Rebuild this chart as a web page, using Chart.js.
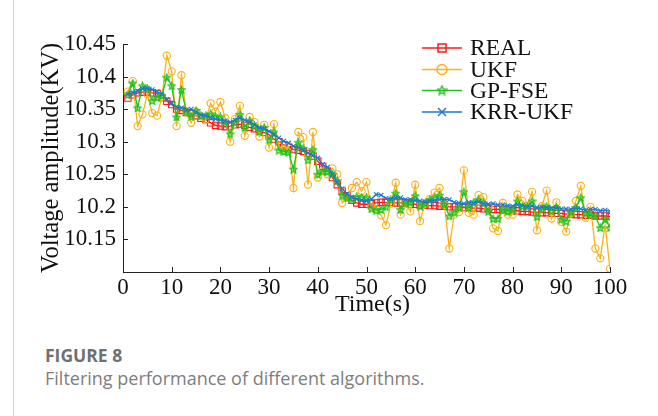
<!DOCTYPE html>
<html>
<head>
<meta charset="utf-8">
<script src="https://cdn.jsdelivr.net/npm/chart.js"></script>
<style>
  html, body { margin: 0; padding: 0; background: #fff; }
  body { width: 658px; height: 416px; position: relative; overflow: hidden; }
  .side-rule { position: absolute; left: 13px; top: 0; width: 1px; height: 416px; background: #d4d4d4; }
  .chart-box { position: absolute; left: 0; top: 0; width: 658px; height: 330px; }
  .fig-label { position: absolute; left: 45px; top: 347px; line-height: 1; font-family: "Open Sans", sans-serif;
    font-weight: 700; font-size: 17.5px; color: #707070; }
  .fig-caption { position: absolute; left: 45px; top: 369px; line-height: 1; font-family: "Open Sans", sans-serif;
    font-size: 18px; color: #7e7e7e; }
</style>
</head>
<body>
<div class="side-rule"></div>
<div class="chart-box"><canvas id="filter-chart" width="658" height="330"></canvas></div>
<div class="fig-label">FIGURE 8</div>
<div class="fig-caption">Filtering performance of different algorithms.</div>
<script>
// 时间轴 (s)
const timeSteps = [
  1, 2, 3, 4, 5, 6, 7, 8, 9, 10, 11, 12, 13, 14, 15, 16, 17, 18, 19, 20,
  21, 22, 23, 24, 25, 26, 27, 28, 29, 30, 31, 32, 33, 34, 35, 36, 37, 38, 39, 40,
  41, 42, 43, 44, 45, 46, 47, 48, 49, 50, 51, 52, 53, 54, 55, 56, 57, 58, 59, 60,
  61, 62, 63, 64, 65, 66, 67, 68, 69, 70, 71, 72, 73, 74, 75, 76, 77, 78, 79, 80,
  81, 82, 83, 84, 85, 86, 87, 88, 89, 90, 91, 92, 93, 94, 95, 96, 97, 98, 99, 100
];

// 真实电压
const realValues = [
  10.367, 10.372, 10.375, 10.376, 10.376, 10.375, 10.374, 10.368, 10.362, 10.357,
  10.350, 10.348, 10.345, 10.343, 10.340, 10.336, 10.334, 10.329, 10.325, 10.324,
  10.323, 10.324, 10.326, 10.327, 10.325, 10.322, 10.320, 10.316, 10.314, 10.311,
  10.304, 10.300, 10.295, 10.292, 10.288, 10.287, 10.285, 10.282, 10.278, 10.270,
  10.262, 10.255, 10.245, 10.234, 10.224, 10.217, 10.210, 10.206, 10.204, 10.204,
  10.205, 10.206, 10.207, 10.207, 10.207, 10.206, 10.206, 10.205, 10.204, 10.204,
  10.203, 10.203, 10.202, 10.202, 10.201, 10.201, 10.200, 10.200, 10.200, 10.199,
  10.199, 10.198, 10.198, 10.197, 10.197, 10.196, 10.196, 10.195, 10.195, 10.194,
  10.194, 10.193, 10.193, 10.192, 10.192, 10.191, 10.191, 10.190, 10.190, 10.190,
  10.189, 10.189, 10.188, 10.188, 10.187, 10.187, 10.186, 10.186, 10.186, 10.185
];

// UKF 估计
const ukfValues = [
  10.377, 10.393, 10.324, 10.342, 10.373, 10.344, 10.340, 10.369, 10.432, 10.408,
  10.324, 10.402, 10.345, 10.329, 10.346, 10.339, 10.334, 10.359, 10.346, 10.361,
  10.336, 10.300, 10.335, 10.355, 10.309, 10.338, 10.330, 10.308, 10.326, 10.291,
  10.327, 10.293, 10.288, 10.293, 10.229, 10.315, 10.307, 10.234, 10.315, 10.245,
  10.255, 10.250, 10.259, 10.250, 10.206, 10.214, 10.229, 10.238, 10.224, 10.238,
  10.200, 10.196, 10.187, 10.172, 10.205, 10.237, 10.188, 10.205, 10.193, 10.234,
  10.178, 10.205, 10.212, 10.222, 10.229, 10.204, 10.136, 10.188, 10.192, 10.256,
  10.191, 10.188, 10.218, 10.215, 10.199, 10.167, 10.163, 10.206, 10.188, 10.188,
  10.219, 10.209, 10.202, 10.223, 10.164, 10.201, 10.225, 10.182, 10.207, 10.177,
  10.162, 10.190, 10.209, 10.232, 10.183, 10.200, 10.136, 10.121, 10.172, 10.105
];

// GP-FSE 估计
const gpfseValues = [
  10.372, 10.390, 10.352, 10.386, 10.382, 10.363, 10.368, 10.371, 10.399, 10.386,
  10.338, 10.380, 10.346, 10.339, 10.348, 10.340, 10.340, 10.343, 10.339, 10.338,
  10.330, 10.312, 10.330, 10.342, 10.322, 10.332, 10.325, 10.316, 10.322, 10.303,
  10.315, 10.287, 10.285, 10.284, 10.258, 10.299, 10.290, 10.272, 10.288, 10.250,
  10.255, 10.254, 10.250, 10.240, 10.218, 10.214, 10.212, 10.216, 10.215, 10.215,
  10.197, 10.195, 10.196, 10.200, 10.211, 10.221, 10.196, 10.206, 10.207, 10.217,
  10.201, 10.205, 10.211, 10.214, 10.218, 10.204, 10.186, 10.192, 10.199, 10.223,
  10.199, 10.207, 10.211, 10.206, 10.193, 10.182, 10.182, 10.196, 10.193, 10.196,
  10.209, 10.201, 10.201, 10.209, 10.185, 10.197, 10.201, 10.194, 10.199, 10.181,
  10.178, 10.192, 10.199, 10.214, 10.191, 10.188, 10.186, 10.168, 10.181, 10.168
];

// KRR-UKF 估计
const krrUkfValues = [
  10.373, 10.375, 10.378, 10.381, 10.382, 10.380, 10.377, 10.373, 10.365, 10.359,
  10.353, 10.352, 10.349, 10.350, 10.345, 10.341, 10.340, 10.337, 10.335, 10.333,
  10.332, 10.330, 10.333, 10.336, 10.333, 10.330, 10.326, 10.322, 10.320, 10.316,
  10.311, 10.306, 10.301, 10.298, 10.293, 10.291, 10.287, 10.283, 10.279, 10.275,
  10.265, 10.261, 10.250, 10.238, 10.228, 10.220, 10.215, 10.212, 10.210, 10.209,
  10.212, 10.219, 10.218, 10.213, 10.212, 10.214, 10.214, 10.211, 10.211, 10.210,
  10.209, 10.208, 10.209, 10.210, 10.211, 10.212, 10.211, 10.207, 10.206, 10.205,
  10.207, 10.206, 10.208, 10.205, 10.204, 10.205, 10.203, 10.203, 10.202, 10.201,
  10.203, 10.202, 10.200, 10.201, 10.199, 10.200, 10.199, 10.198, 10.199, 10.197,
  10.197, 10.196, 10.198, 10.197, 10.195, 10.196, 10.196, 10.194, 10.195, 10.193
];

// 坐标轴刻度
const xTicks = [0, 10, 20, 30, 40, 50, 60, 70, 80, 90, 100];
const yTicks = [10.1, 10.15, 10.2, 10.25, 10.3, 10.35, 10.4, 10.45];

const seriesNames = ['REAL', 'UKF', 'GP-FSE', 'KRR-UKF'];
const seriesColors = ['#ff1a1a', '#fbb117', '#1fc21f', '#1f78d1'];

const SERIF = '"Liberation Serif", "DejaVu Serif", serif';

// 五角星标记
function makeStar(color, size) {
  const c = document.createElement('canvas');
  c.width = size;
  c.height = size;
  const g = c.getContext('2d');
  const cx = size / 2, cy = size / 2 + 0.5;
  const ro = size / 2 - 0.8, ri = ro * 0.45;
  g.beginPath();
  for (let i = 0; i < 10; i++) {
    const r = i % 2 === 0 ? ro : ri;
    const a = -Math.PI / 2 + i * Math.PI / 5;
    const px = cx + r * Math.cos(a), py = cy + r * Math.sin(a);
    if (i === 0) g.moveTo(px, py); else g.lineTo(px, py);
  }
  g.closePath();
  g.strokeStyle = color;
  g.lineWidth = 1.3;
  g.stroke();
  return c;
}
const starMarker = makeStar(seriesColors[2], 9);
const legendStar = makeStar(seriesColors[2], 11);

function toPoints(values) {
  return values.map((v, i) => ({ x: timeSteps[i], y: v }));
}

// 刻度朝内 + 图例
const axisDecor = {
  id: 'axisDecor',
  afterDraw(chart) {
    const ctx = chart.ctx;
    const xs = chart.scales.x, ys = chart.scales.y;
    const area = chart.chartArea;
    ctx.save();
    ctx.strokeStyle = '#222';
    ctx.lineWidth = 1;
    xTicks.forEach(t => {
      const px = Math.round(xs.getPixelForValue(t)) + 0.5;
      ctx.beginPath();
      ctx.moveTo(px, area.bottom);
      ctx.lineTo(px, area.bottom - 5);
      ctx.stroke();
    });
    yTicks.forEach(t => {
      const py = Math.round(ys.getPixelForValue(t)) + 0.5;
      ctx.beginPath();
      ctx.moveTo(area.left, py);
      ctx.lineTo(area.left + 5, py);
      ctx.stroke();
    });

    // 图例
    const lx0 = 422, lx1 = 462, mx = 442, tx = 470;
    const rowsY = [48, 69.5, 90.5, 112];
    ctx.font = '23.5px ' + SERIF;
    ctx.textBaseline = 'middle';
    ctx.textAlign = 'left';
    seriesNames.forEach((name, i) => {
      const y = rowsY[i];
      const col = seriesColors[i];
      ctx.strokeStyle = col;
      ctx.lineWidth = 1.5;
      ctx.beginPath();
      ctx.moveTo(lx0, y);
      ctx.lineTo(lx1, y);
      ctx.stroke();
      ctx.beginPath();
      if (i === 0) {
        ctx.strokeRect(mx - 4, y - 4, 8, 8);
      } else if (i === 1) {
        ctx.arc(mx, y, 5, 0, Math.PI * 2);
        ctx.stroke();
      } else if (i === 2) {
        ctx.drawImage(legendStar, mx - 5.5, y - 6);
      } else {
        ctx.moveTo(mx - 4, y - 4); ctx.lineTo(mx + 4, y + 4);
        ctx.moveTo(mx + 4, y - 4); ctx.lineTo(mx - 4, y + 4);
        ctx.stroke();
      }
      ctx.fillStyle = '#111';
      ctx.fillText(name, tx, y + 1);
    });
    ctx.restore();
  }
};

const canvas = document.getElementById('filter-chart');
new Chart(canvas, {
  type: 'line',
  data: {
    datasets: [
      {
        label: seriesNames[0],
        data: toPoints(realValues),
        borderColor: seriesColors[0],
        backgroundColor: 'rgba(0,0,0,0)',
        borderWidth: 1.3,
        pointStyle: 'rect',
        pointRadius: 4.5,
        pointBorderWidth: 1.1,
        tension: 0,
        order: 4
      },
      {
        label: seriesNames[1],
        data: toPoints(ukfValues),
        borderColor: seriesColors[1],
        backgroundColor: 'rgba(0,0,0,0)',
        borderWidth: 1.3,
        pointStyle: 'circle',
        pointRadius: 3.6,
        pointBorderWidth: 1.1,
        tension: 0,
        order: 3
      },
      {
        label: seriesNames[2],
        data: toPoints(gpfseValues),
        borderColor: seriesColors[2],
        backgroundColor: 'rgba(0,0,0,0)',
        borderWidth: 1.3,
        pointStyle: starMarker,
        tension: 0,
        order: 2
      },
      {
        label: seriesNames[3],
        data: toPoints(krrUkfValues),
        borderColor: seriesColors[3],
        backgroundColor: 'rgba(0,0,0,0)',
        borderWidth: 1.3,
        pointStyle: 'crossRot',
        pointRadius: 3.2,
        pointBorderWidth: 1.1,
        tension: 0,
        order: 1
      }
    ]
  },
  options: {
    responsive: false,
    animation: false,
    layout: {
      padding: { left: 36, right: 48, top: 44, bottom: 8 }
    },
    plugins: {
      legend: { display: false },
      tooltip: { enabled: false }
    },
    scales: {
      x: {
        type: 'linear',
        min: 0,
        max: 100,
        afterFit: s => { s.height = 50; },
        afterBuildTicks: s => { s.ticks = xTicks.map(v => ({ value: v })); },
        grid: { display: false, drawTicks: false },
        border: { display: true, color: '#222', width: 1 },
        ticks: {
          color: '#111',
          padding: 2,
          maxRotation: 0,
          font: { family: SERIF, size: 23 }
        },
        title: {
          display: true,
          text: '\u2002Time(s)',
          color: '#111',
          font: { family: SERIF, size: 24, lineHeight: 1 },
          padding: { top: 0, bottom: 5 }
        }
      },
      y: {
        min: 10.1,
        max: 10.45,
        afterFit: s => { s.width = 87; },
        afterBuildTicks: s => { s.ticks = yTicks.map(v => ({ value: v })); },
        grid: { display: false, drawTicks: false },
        border: { display: true, color: '#222', width: 1 },
        ticks: {
          color: '#111',
          padding: 7,
          font: { family: SERIF, size: 23 },
          callback: v => (v < 10.12 ? '' : String(Math.round(v * 100) / 100))
        },
        title: {
          display: true,
          text: 'Voltage amplitude(KV)',
          color: '#111',
          font: { family: SERIF, size: 24.5, lineHeight: 1 },
          padding: { top: 3, bottom: 0 }
        }
      }
    }
  },
  plugins: [axisDecor]
});
</script>
</body>
</html>
